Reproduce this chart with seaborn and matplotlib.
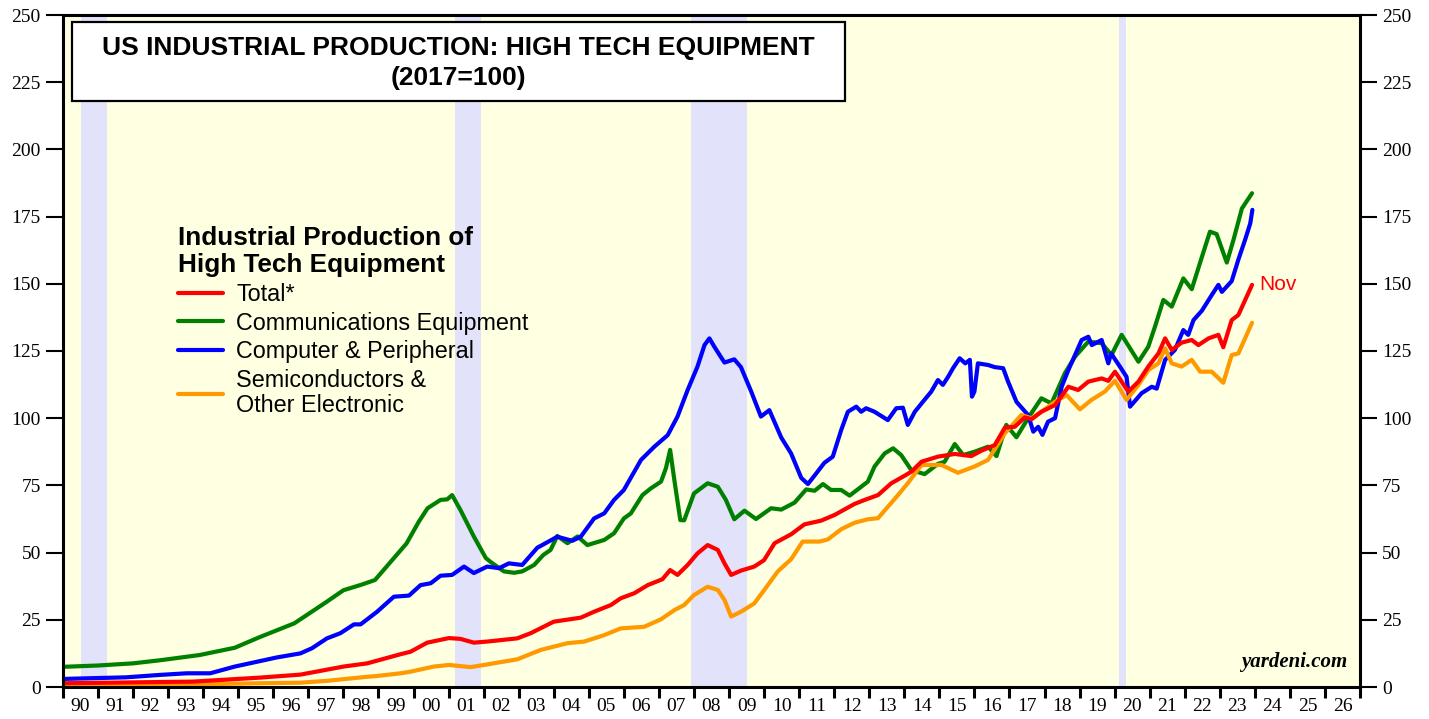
import numpy as np
import pandas as pd
import seaborn as sns
import matplotlib.pyplot as plt
from matplotlib.patches import Rectangle

# ---------------- data ----------------
series_names = ["Total*", "Communications Equipment", "Computer & Peripheral",
                "Semiconductors &\nOther Electronic"]
series_colors = ["#ff0000", "#008000", "#0000ff", "#ff9900"]

total_t = [1990.0, 1993.7, 1995.63, 1996.77, 1998.0, 1998.68, 1999.63, 1999.91, 2000.39, 2001.01,
           2001.34, 2001.72, 2002.1, 2002.96, 2003.34, 2004.0, 2004.77, 2005.15, 2005.63, 2005.91,
           2006.3, 2006.68, 2007.1, 2007.32, 2007.53, 2007.82, 2008.1, 2008.39, 2008.68, 2008.87,
           2009.06, 2009.34, 2009.72, 2010.0, 2010.3, 2010.77, 2011.15, 2011.63, 2012.01, 2012.58,
           2012.87, 2013.25, 2013.63, 2014.01, 2014.2, 2014.49, 2014.96, 2015.44, 2015.91, 2016.2,
           2016.58, 2016.87, 2017.15, 2017.44, 2017.63, 2017.91, 2018.3, 2018.68, 2018.96, 2019.25,
           2019.63, 2019.82, 2020.01, 2020.39, 2020.68, 2020.96, 2021.25, 2021.44, 2021.63, 2021.91,
           2022.2, 2022.39, 2022.68, 2022.96, 2023.1, 2023.34, 2023.53, 2023.92]
total_v = [1.4, 2.0, 3.5, 4.6, 7.6, 8.8, 12.2, 13.1, 16.5, 18.2,
           17.9, 16.5, 16.9, 18.1, 20, 24.3, 25.8, 28, 30.5, 33,
           34.9, 37.9, 40.1, 43.5, 41.7, 45.4, 49.7, 52.8, 51, 46,
           41.7, 43.3, 44.8, 47.2, 53.5, 56.8, 60.5, 61.9, 64, 68.1,
           69.6, 71.4, 75.8, 78.6, 80.1, 83.8, 85.7, 86.7, 85.9, 87.9,
           90, 96.5, 96.8, 100.3, 99.6, 102.4, 104.9, 111.7, 110.5, 113.6,
           114.8, 113.9, 117.3, 109.9, 113.6, 119.2, 124.1, 129.7, 125.4, 128.1,
           129.1, 127.2, 129.7, 131, 126.4, 136.5, 138.4, 149.6]

comm_t = [1990.0, 1991.0, 1992.0, 1992.8, 1993.9, 1994.9, 1995.6, 1996.6, 1997.5, 1998.0,
          1998.5, 1998.9, 1999.35, 1999.8, 2000.15, 2000.4, 2000.77, 2000.96, 2001.1, 2001.34,
          2001.72, 2002.06, 2002.2, 2002.58, 2002.87, 2003.1, 2003.44, 2003.7, 2003.91, 2004.1,
          2004.39, 2004.68, 2004.96, 2005.44, 2005.72, 2006.0, 2006.2, 2006.53, 2006.77, 2007.06,
          2007.2, 2007.32, 2007.44, 2007.61, 2007.72, 2008.0, 2008.39, 2008.68, 2008.91, 2009.15,
          2009.44, 2009.77, 2010.2, 2010.49, 2010.87, 2011.2, 2011.44, 2011.68, 2011.91, 2012.2,
          2012.44, 2012.77, 2012.96, 2013.15, 2013.44, 2013.68, 2013.91, 2014.2, 2014.58, 2014.96,
          2015.15, 2015.44, 2015.68, 2016.0, 2016.39, 2016.63, 2016.91, 2017.2, 2017.53, 2017.91,
          2018.2, 2018.58, 2018.87, 2019.25, 2019.63, 2019.91, 2020.2, 2020.68, 2020.96, 2021.15,
          2021.39, 2021.63, 2021.96, 2022.2, 2022.49, 2022.72, 2022.91, 2023.2, 2023.39, 2023.63,
          2023.92]
comm_v = [7.5, 8.0, 8.8, 10, 11.9, 14.6, 18.5, 23.7, 31.5, 36,
          38, 39.8, 46.6, 53.4, 61.5, 66.5, 69.6, 69.8, 71.4, 65.8,
          56, 48, 46.5, 43, 42.5, 43, 45.4, 49.1, 51, 56.2,
          53.5, 56, 52.8, 54.7, 57.2, 62.7, 64.6, 71.4, 73.9, 76.4,
          81.4, 88.2, 77, 62.1, 62, 72, 75.8, 74.5, 69.6, 62.4,
          65.6, 62.5, 66.5, 66, 68.6, 73.5, 73, 75.5, 73.3, 73.3,
          71.2, 74.5, 76.4, 82, 86.9, 88.8, 86.3, 80.7, 79.2, 83,
          83.8, 90.4, 86.3, 87.5, 89.4, 85.9, 97.5, 92.9, 100, 107.4,
          105.5, 116.7, 122.9, 128.5, 127.9, 123.5, 131, 121, 126.6, 134,
          144, 141.5, 152, 148, 160, 169.4, 168.5, 157.9, 166.3, 178,
          183.7]

comp_t = [1990.0, 1991.8, 1992.77, 1993.53, 1994.2, 1994.9, 1996.1, 1996.77, 1997.1, 1997.53,
          1997.91, 1998.3, 1998.49, 1998.96, 1999.44, 1999.87, 2000.2, 2000.49, 2000.77, 2001.1,
          2001.44, 2001.72, 2002.1, 2002.44, 2002.72, 2003.1, 2003.53, 2004.1, 2004.53, 2004.77,
          2005.15, 2005.44, 2005.72, 2006.0, 2006.49, 2006.87, 2007.25, 2007.53, 2007.82, 2008.1,
          2008.3, 2008.44, 2008.58, 2008.87, 2009.15, 2009.34, 2009.63, 2009.91, 2010.15, 2010.49,
          2010.77, 2011.06, 2011.25, 2011.49, 2011.72, 2011.96, 2012.2, 2012.39, 2012.63, 2012.77,
          2012.91, 2013.15, 2013.53, 2013.77, 2013.96, 2014.1, 2014.3, 2014.53, 2014.77, 2014.96,
          2015.1, 2015.25, 2015.39, 2015.58, 2015.74, 2015.87, 2015.93, 2016.0, 2016.1, 2016.39,
          2016.58, 2016.82, 2016.96, 2017.2, 2017.53, 2017.68, 2017.82, 2017.94, 2018.1, 2018.3,
          2018.49, 2018.68, 2018.87, 2019.06, 2019.25, 2019.35, 2019.63, 2019.82, 2019.9, 2020.15,
          2020.34, 2020.44, 2020.77, 2021.06, 2021.2, 2021.44, 2021.72, 2021.96, 2022.1, 2022.25,
          2022.49, 2022.77, 2022.96, 2023.06, 2023.34, 2023.53, 2023.72, 2023.87, 2023.93]
comp_v = [3.0, 3.6, 4.5, 5.1, 5.1, 7.6, 11, 12.5, 14.4, 18.1,
          20, 23.3, 23.3, 28, 33.6, 34, 37.9, 38.6, 41.4, 41.7,
          44.8, 42.4, 44.8, 44.2, 46, 45.4, 51.8, 55.9, 54.4, 55.9,
          62.7, 64.6, 69.6, 73.3, 84.5, 89.4, 93.7, 100.6, 110.5, 119.2,
          127.2, 129.7, 126.6, 120.7, 121.9, 119, 110, 100.6, 103, 92.8,
          86.9, 77.8, 75.5, 79.5, 83.4, 85.7, 95.6, 102.4, 104.3, 102.4,
          103.7, 102.4, 99.3, 103.7, 103.9, 97.5, 102.4, 106.1, 109.9, 114.2,
          112.4, 115.4, 118.6, 122.3, 120.4, 121.7, 108, 109.9, 120.4, 119.8,
          119, 118.6, 113.6, 106.1, 101.2, 95, 96.8, 93.8, 98.7, 100,
          111.7, 117.9, 123.5, 129.1, 130.3, 127.2, 129.1, 120.4, 124.1, 119.2,
          115.4, 104.3, 109.3, 111.7, 111, 121.7, 125.4, 132.8, 131, 136.5,
          140, 145.8, 149.6, 147, 151, 159, 166.3, 172.5, 177.5]

semi_t = [1990.0, 1993.0, 1995.63, 1996.77, 1997.53, 1998.68, 1998.96, 1999.63, 1999.91, 2000.58,
          2001.01, 2001.63, 2002.01, 2002.96, 2003.63, 2004.39, 2004.87, 2005.44, 2005.91, 2006.58,
          2007.06, 2007.44, 2007.72, 2008.0, 2008.39, 2008.68, 2008.87, 2009.06, 2009.34, 2009.72,
          2010.0, 2010.39, 2010.77, 2011.1, 2011.58, 2011.82, 2012.2, 2012.58, 2012.96, 2013.25,
          2013.82, 2014.1, 2014.49, 2015.06, 2015.53, 2016.0, 2016.39, 2016.87, 2017.34, 2017.63,
          2017.91, 2018.3, 2018.63, 2019.01, 2019.34, 2019.72, 2020.01, 2020.34, 2020.68, 2020.96,
          2021.25, 2021.44, 2021.63, 2021.91, 2022.2, 2022.44, 2022.77, 2023.1, 2023.34, 2023.53,
          2023.92]
semi_v = [0.5, 0.8, 1.4, 1.6, 2.3, 3.8, 4.1, 5.1, 5.7, 7.6,
          8.2, 7.4, 8.2, 10.3, 13.8, 16.3, 16.9, 19.3, 21.8, 22.4,
          25.2, 28.6, 30.5, 34.2, 37.3, 36.1, 32.4, 26.2, 28, 31.1,
          36, 43, 47.5, 54.1, 54.1, 54.9, 58.7, 61.1, 62.4, 62.8,
          71.4, 75.8, 82.6, 82.6, 79.7, 82, 84.5, 94.4, 101.2, 100,
          102.4, 106.1, 108.6, 103.3, 106.8, 109.9, 113.9, 106.8, 112.4, 117.9,
          120.4, 126, 120.4, 119.2, 121.7, 117.3, 117.3, 113.2, 123.5, 124.1,
          135.5]

recession_start = [1990.5, 2001.17, 2007.92, 2020.12]
recession_end = [1991.25, 2001.92, 2009.5, 2020.33]

year_ticks = list(range(1990, 2028))
year_labels = [f"{y % 100:02d}" for y in range(1990, 2027)]
y_ticks = list(range(0, 251, 25))

last_label = "Nov"
title_line1 = "US INDUSTRIAL PRODUCTION: HIGH TECH EQUIPMENT"
title_line2 = "(2017=100)"
legend_title = "Industrial Production of\nHigh Tech Equipment"

# ---------------- build table ----------------
frames = []
for name, t, v in zip(series_names, [total_t, comm_t, comp_t, semi_t],
                      [total_v, comm_v, comp_v, semi_v]):
    assert len(t) == len(v), name
    frames.append(pd.DataFrame({"year": t, "value": v, "series": name}))
df = pd.concat(frames, ignore_index=True)

# ---------------- figure ----------------
sns.set_theme(style="ticks")
plt.rcParams["font.family"] = ["Liberation Sans", "DejaVu Sans"]
plt.rcParams["text.color"] = "black"
plt.rcParams["axes.labelcolor"] = "black"
plt.rcParams["xtick.color"] = "black"
plt.rcParams["ytick.color"] = "black"

W, H = 1429, 719
fig = plt.figure(figsize=(W / 100, H / 100), dpi=100)
ax = fig.add_axes([63 / W, 1 - 687 / H, 1297 / W, 672 / H])
ax.set_facecolor("#ffffe2")

for s, e in zip(recession_start, recession_end):
    ax.axvspan(s, e, color="#e2e2fa", lw=0, zorder=0.5)

sns.lineplot(data=df, x="year", y="value", hue="series", hue_order=series_names,
             palette=series_colors, estimator=None, sort=False, linewidth=3,
             ax=ax, legend=True)

zorders = [2.4, 2.1, 2.2, 2.3]
for line, z in zip(ax.get_lines(), zorders):
    line.set_zorder(z)
    line.set_solid_joinstyle("round")

ax.set_xlim(1990, 2027)
ax.set_ylim(0, 250)
ax.set_xlabel("")
ax.set_ylabel("")

# x ticks: major tick marks at year boundaries, labels centred in each year
ax.set_xticks(year_ticks)
ax.set_xticklabels([""] * len(year_ticks))
ax.set_xticks([y + 0.5 for y in range(1990, 2027)], minor=True)
ax.set_xticklabels(year_labels, minor=True, fontfamily="Liberation Serif", fontsize=14,
                   color="black")
ax.tick_params(axis="x", which="major", length=8, width=2.2, direction="out", color="black")
ax.tick_params(axis="x", which="minor", length=0, pad=8, labelcolor="black")

ax.set_yticks(y_ticks)
ax.set_yticklabels([str(v) for v in y_ticks], fontfamily="Liberation Serif", fontsize=14,
                   color="black")
ax.tick_params(axis="y", which="major", length=12, width=1.5, direction="out",
               left=True, right=True, labelleft=True, labelright=True, pad=4,
               color="black", labelcolor="black")

for sp in ax.spines.values():
    sp.set_visible(True)
    sp.set_linewidth(2.2)
    sp.set_color("black")
    sp.set_zorder(10)

# legend
handles, labels = ax.get_legend_handles_labels()
leg = ax.legend(handles, labels, title=legend_title, loc="upper left",
                bbox_to_anchor=(0.0885, 0.686), frameon=False, fontsize=16.8,
                title_fontproperties={"weight": "bold", "size": 18.8},
                alignment="left", handlelength=1.95, handletextpad=0.55,
                labelspacing=0.25, borderaxespad=0, borderpad=0)
leg.get_title().set_linespacing(1.15)
leg.get_title().set_color("black")
for txt in leg.get_texts():
    txt.set_color("black")
    txt.set_linespacing(1.1)
for lh in leg.legend_handles:
    lh.set_linewidth(3)

# title box
ax.add_patch(Rectangle((9 / 1297, (687 - 101) / 672), 773 / 1297, 79 / 672,
                       transform=ax.transAxes, facecolor="white", edgecolor="black",
                       lw=1.6, zorder=5))
ax.text(395 / 1297, (687 - 48) / 672, title_line1, transform=ax.transAxes,
        ha="center", va="center", fontsize=19, fontweight="bold", zorder=6, color="black")
ax.text(395 / 1297, (687 - 78) / 672, title_line2, transform=ax.transAxes,
        ha="center", va="center", fontsize=19, fontweight="bold", zorder=6, color="black")

# last-value label
ax.annotate(last_label, xy=(total_t[-1], total_v[-1]), xytext=(5, 0),
            textcoords="offset points", ha="left", va="center",
            color="#ff0000", fontsize=15)

# source
ax.text(0.99, 0.022, "yardeni.com", transform=ax.transAxes, ha="right", va="bottom",
        fontfamily="Liberation Serif", fontweight="bold", fontstyle="italic", fontsize=15,
        color="black")

fig.savefig("out.png", dpi=100)
